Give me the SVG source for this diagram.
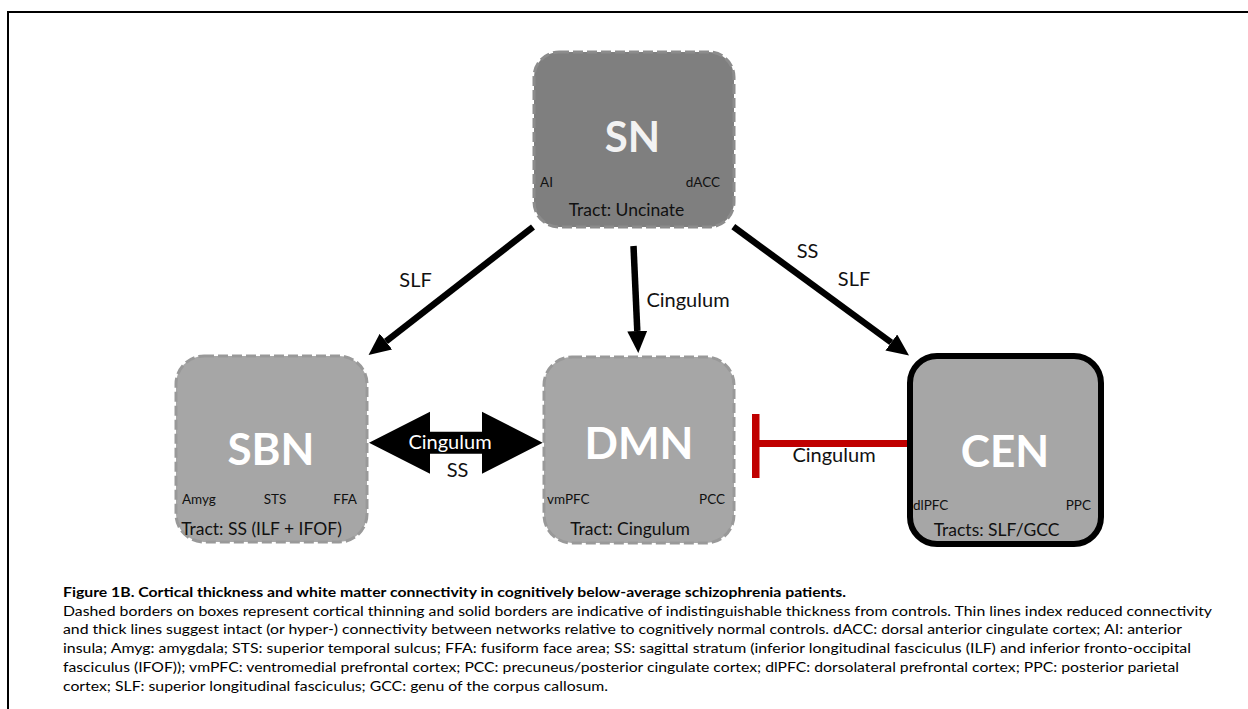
<svg xmlns="http://www.w3.org/2000/svg" width="1248" height="709" viewBox="0 0 1248 709">
<style>
.box{stroke-width:3;stroke-dasharray:10 4}
.sn{fill:#7F7F7F;stroke:#8C8C8C}
.lt{fill:#A6A6A6;stroke:#999999}
.title{font-family:Lato,"Open Sans",sans-serif;font-weight:bold;font-size:44px;text-anchor:middle;fill:#FFFFFF}
.small{font-family:Lato,"Open Sans",sans-serif;font-size:13.5px;fill:#111111}
.tract{font-family:Lato,"Open Sans",sans-serif;font-size:17.5px;fill:#111111;text-anchor:middle}
.lbl{font-family:Lato,"Open Sans",sans-serif;font-size:20px;fill:#111111;text-anchor:middle}
.cap{font-family:Lato,"Open Sans",sans-serif;font-size:13.5px;fill:#000000}
.arrow{stroke:#000000;stroke-width:6.5;fill:none}
</style>
<defs>
<marker id="ah" markerUnits="userSpaceOnUse" markerWidth="22" markerHeight="20" refX="0" refY="10" orient="auto" viewBox="0 0 22 20">
<path d="M0,0 L22,10 L0,20 z" fill="#000000"/>
</marker>
</defs>
<rect width="1248" height="709" fill="#FFFFFF"/>
<path d="M8,709 L8,12 L1248,12" fill="none" stroke="#000000" stroke-width="2"/>

<g id="connectors">
<path class="arrow" d="M533,227 L385.9,341.5" marker-end="url(#ah)"/>
<path class="arrow" d="M633.5,246 L637.3,331" marker-end="url(#ah)"/>
<path class="arrow" d="M733.3,226.7 L891.3,342.5" marker-end="url(#ah)"/>
<polygon points="369,442.7 430,411.7 430,431.7 482,431.7 482,411.7 542.7,442.7 482,473.7 482,453.7 430,453.7 430,473.7" fill="#000000"/>
<line x1="759" y1="443.5" x2="908" y2="443.5" stroke="#C00000" stroke-width="7"/>
<rect x="752" y="414" width="7.5" height="64" fill="#C00000"/>
<text class="lbl" x="415.5" y="287">SLF</text>
<text class="lbl" x="688" y="307">Cingulum</text>
<text class="lbl" x="807.5" y="258">SS</text>
<text class="lbl" x="854" y="286">SLF</text>
<text class="lbl" x="450" y="449" fill="#FFFFFF" style="fill:#FFFFFF">Cingulum</text>
<text class="lbl" x="457.5" y="476.5">SS</text>
<text class="lbl" x="834" y="462">Cingulum</text>
</g>

<g id="SN">
<rect class="box sn" x="534" y="52" width="200" height="175" rx="25"/>
<text class="title" x="632.5" y="152" font-size="42" style="font-size:42px;fill:#F2F2F2">SN</text>
<text class="small" x="540" y="187">AI</text>
<text class="small" x="720" y="187" text-anchor="end">dACC</text>
<text class="tract" x="626.5" y="216">Tract: Uncinate</text>
</g>

<g id="SBN">
<rect class="box lt" x="176" y="356" width="191" height="186" rx="28"/>
<text class="title" x="271" y="465">SBN</text>
<text class="small" x="182" y="504">Amyg</text>
<text class="small" x="275" y="504" text-anchor="middle">STS</text>
<text class="small" x="357" y="504" text-anchor="end">FFA</text>
<text class="tract" x="261.5" y="535">Tract: SS (ILF + IFOF)</text>
</g>

<g id="DMN">
<rect class="box lt" x="544" y="357" width="190" height="186" rx="28"/>
<text class="title" x="639" y="459">DMN</text>
<text class="small" x="547" y="504">vmPFC</text>
<text class="small" x="725" y="504" text-anchor="end">PCC</text>
<text class="tract" x="630" y="535">Tract: Cingulum</text>
</g>

<g id="CEN">
<rect x="910" y="356" width="191" height="188" rx="27" fill="#A6A6A6" stroke="#000000" stroke-width="6"/>
<text class="title" x="1005" y="467">CEN</text>
<text class="small" x="913" y="510">dlPFC</text>
<text class="small" x="1091" y="510" text-anchor="end">PPC</text>
<text class="tract" x="996.5" y="536">Tracts: SLF/GCC</text>
</g>

<g id="caption">
<text class="cap" x="63" y="597" font-weight="bold" textLength="783" lengthAdjust="spacingAndGlyphs">Figure 1B. Cortical thickness and white matter connectivity in cognitively below-average schizophrenia patients.</text>
<text class="cap" x="63" y="615.7" textLength="1149" lengthAdjust="spacingAndGlyphs">Dashed borders on boxes represent cortical thinning and solid borders are indicative of indistinguishable thickness from controls. Thin lines index reduced connectivity</text>
<text class="cap" x="63" y="634.4" textLength="1119" lengthAdjust="spacingAndGlyphs">and thick lines suggest intact (or hyper-) connectivity between networks relative to cognitively normal controls. dACC: dorsal anterior cingulate cortex; AI: anterior</text>
<text class="cap" x="63" y="653.1" textLength="1128" lengthAdjust="spacingAndGlyphs">insula; Amyg: amygdala; STS: superior temporal sulcus; FFA: fusiform face area; SS: sagittal stratum (inferior longitudinal fasciculus (ILF) and inferior fronto-occipital</text>
<text class="cap" x="63" y="671.8" textLength="1116" lengthAdjust="spacingAndGlyphs">fasciculus (IFOF)); vmPFC: ventromedial prefrontal cortex; PCC: precuneus/posterior cingulate cortex; dlPFC: dorsolateral prefrontal cortex; PPC: posterior parietal</text>
<text class="cap" x="63" y="690.5" textLength="545" lengthAdjust="spacingAndGlyphs">cortex; SLF: superior longitudinal fasciculus; GCC: genu of the corpus callosum.</text>
</g>
</svg>
